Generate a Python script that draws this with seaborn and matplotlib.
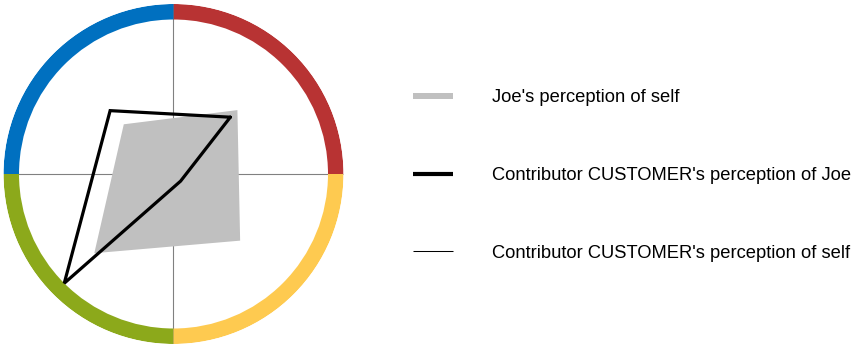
import numpy as np
import pandas as pd
import matplotlib
matplotlib.use("Agg")
import matplotlib.pyplot as plt
from matplotlib.lines import Line2D
import seaborn as sns

# ---- data ----
categories = ["Top right", "Top left", "Bottom left", "Bottom right"]
category_angles_deg = [45, 135, 225, 315]
joe_self = [5.85, 4.55, 7.25, 6.1]
contrib_of_joe = [5.2, 5.8, 10.0, 0.65]
contrib_self = [0, 0, 0, 0]
max_value = 10

quadrant_colors = ["#B83333", "#0070C0", "#8CA91B", "#FECA50"]
legend_labels = ["Joe's perception of self",
                 "Contributor CUSTOMER's perception of Joe",
                 "Contributor CUSTOMER's perception of self"]

sns.set_style("white")
plt.rcParams["font.family"] = ["Liberation Sans", "DejaVu Sans"]
plt.rcParams["text.color"] = "black"

W, H = 852, 348
fig = plt.figure(figsize=(W / 100, H / 100), dpi=100)
cx, cy, R = 173.5, 174, 170
ax = fig.add_axes([(cx - R) / W, (H - cy - R) / H, 2 * R / W, 2 * R / H], projection="polar")

r_outer = max_value * 170 / 154.5
ax.set_ylim(0, r_outer)
ax.set_xticks(np.deg2rad([0, 90, 180, 270]))
ax.set_xticklabels([])
ax.set_yticks([])
ax.set_axisbelow(True)
ax.grid(True, color="#808080", linewidth=0.8)
ax.spines["polar"].set_visible(False)

# ring quadrants
ax.bar(np.deg2rad([0, 90, 180, 270]), [r_outer - max_value] * 4, width=np.pi / 2,
       bottom=max_value, align="edge", color=quadrant_colors, linewidth=0, zorder=3)

theta = np.deg2rad(category_angles_deg)

def closed(vals):
    return pd.DataFrame({"theta": list(theta) + [theta[0]], "r": list(vals) + [vals[0]]})

dj = closed(joe_self)
ax.fill(dj["theta"], dj["r"], color="#C0C0C0", linewidth=0, zorder=2)

dc = closed(contrib_of_joe)
sns.lineplot(data=dc, x="theta", y="r", sort=False, estimator=None, ax=ax,
             color="black", linewidth=2.3, zorder=4, legend=False)
ax.lines[-1].set_solid_joinstyle("miter")

ds = closed(contrib_self)
sns.lineplot(data=ds, x="theta", y="r", sort=False, estimator=None, ax=ax,
             color="black", linewidth=0.75, zorder=4, legend=False)
ax.set_xlabel("")
ax.set_ylabel("")
ax.set_ylim(0, r_outer)

handles = [Line2D([], [], color="#C0C0C0", linewidth=4.3, solid_capstyle="butt"),
           Line2D([], [], color="black", linewidth=3.0, solid_capstyle="butt"),
           Line2D([], [], color="black", linewidth=0.75, solid_capstyle="butt")]
leg = fig.legend(handles, legend_labels, loc="upper left",
                 bbox_to_anchor=(413 / W, 1 - 89.5 / H), frameon=False,
                 fontsize=13.2, handlelength=2.2, handletextpad=2.1,
                 labelspacing=3.31, borderpad=0, borderaxespad=0)
for t in leg.get_texts():
    t.set_color("black")

fig.savefig("out.png", dpi=100)
